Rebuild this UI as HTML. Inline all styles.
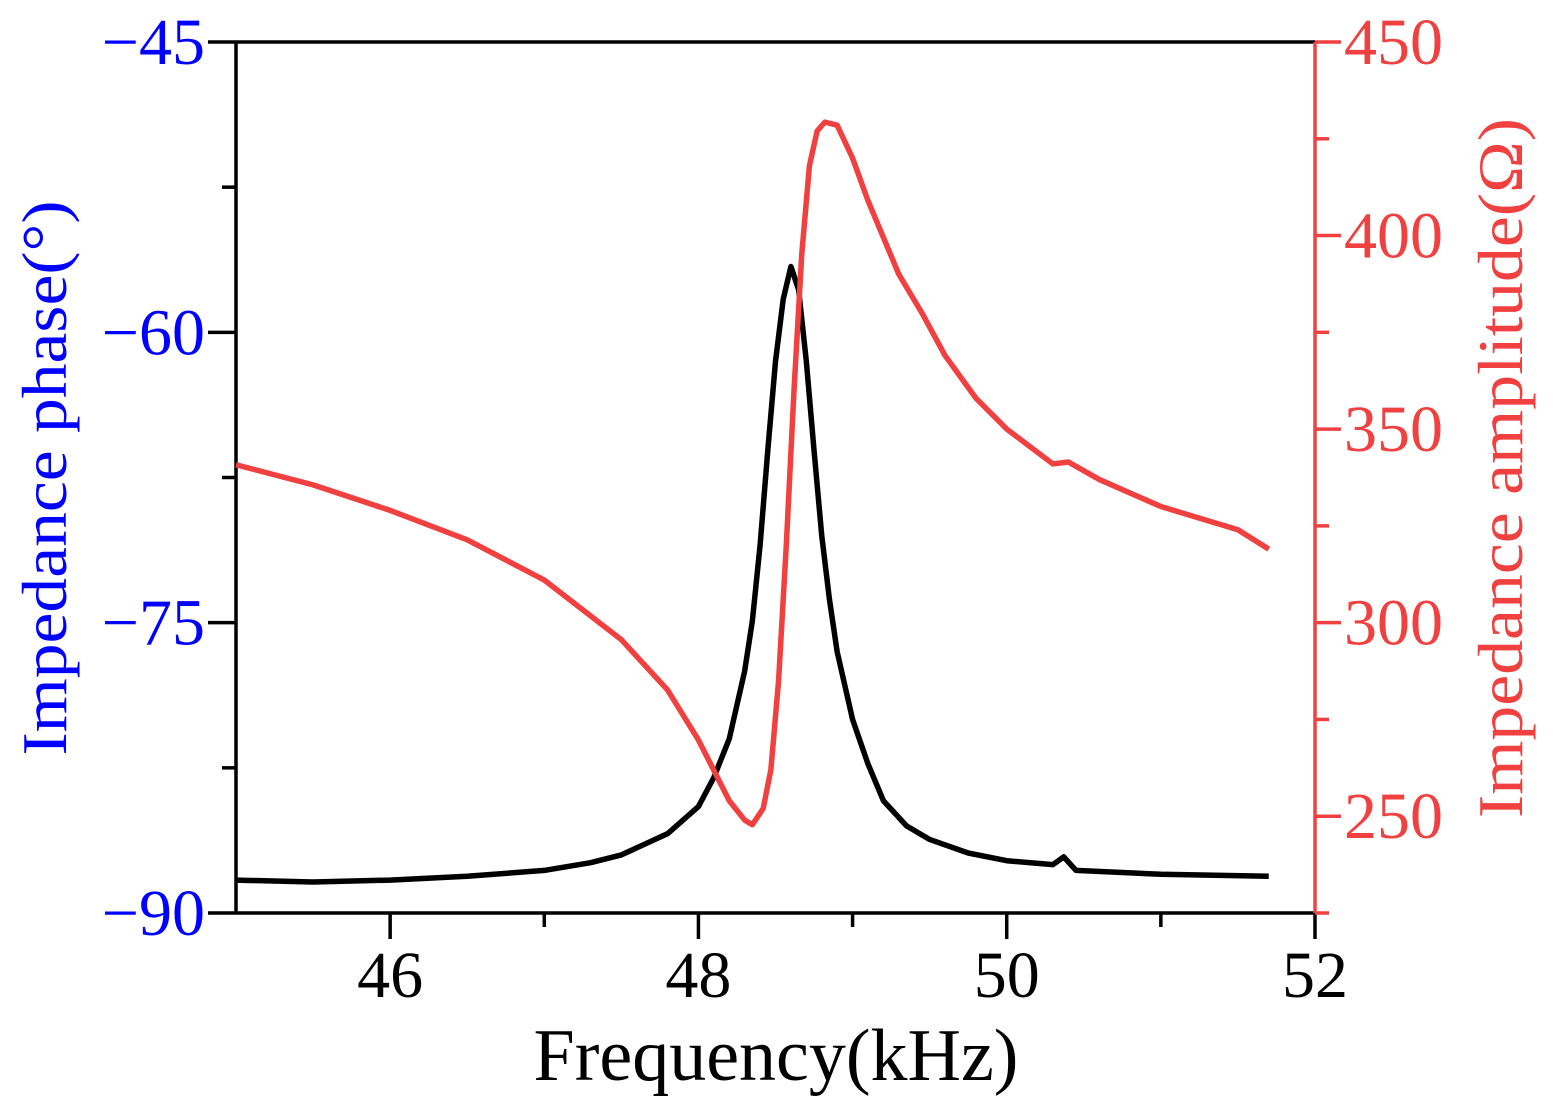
<!DOCTYPE html>
<html><head><meta charset="utf-8"><style>
body{margin:0;background:#fff;}
svg text{font-family:"Liberation Serif",serif;}
</style></head><body>
<svg id="chart" width="1554" height="1108" viewBox="0 0 1554 1108" xmlns="http://www.w3.org/2000/svg">
<g id="axes"></g><g id="series"></g>
</svg>
<script>
const freqPhase=[45,45.5,46,46.5,47,47.3,47.5,47.8,48,48.1,48.2,48.3,48.35,48.4,48.45,48.5,48.55,48.6,48.65,48.7,48.75,48.8,48.85,48.9,49,49.1,49.2,49.35,49.5,49.75,50,50.3,50.37,50.45,51,51.7];
const phaseVals=[-88.3,-88.4,-88.3,-88.1,-87.8,-87.4,-87.0,-85.9,-84.5,-83.0,-81,-77.5,-74.9,-71,-66.1,-61.5,-58.3,-56.6,-57.8,-61.5,-66.1,-70.5,-73.8,-76.5,-80,-82.3,-84.2,-85.5,-86.2,-86.9,-87.3,-87.5,-87.1,-87.8,-88,-88.1];
const freqAmp=[45,45.5,46,46.5,47,47.5,47.8,48,48.2,48.3,48.35,48.42,48.47,48.52,48.57,48.62,48.67,48.72,48.77,48.82,48.9,49.0,49.1,49.3,49.45,49.6,49.8,50,50.3,50.4,50.6,51,51.5,51.7];
const ampVals=[340.8,335.6,329,321.4,311,295.6,282.6,269.7,254,249,247.8,252,262,285,320,360,395,418,427,429.3,428.5,420,409,390,380,369,358,350,341,341.5,337,330,324,319];
const xTicks=[46,48,50,52];
const phaseTicks=[-45,-60,-75,-90];
const ampTicks=[250,300,350,400,450];
const L=236,R=1315,T=42,B=913;
const xS=f=>L+(f-45)/7*(R-L);
const yP=p=>T+(-45-p)/45*(B-T);
const yA=a=>T+(450-a)/225*(B-T);
const NS="http://www.w3.org/2000/svg";
const ax=document.getElementById('axes'),se=document.getElementById('series');
function el(t,at,p){const e=document.createElementNS(NS,t);for(const k in at)e.setAttribute(k,at[k]);p.appendChild(e);return e;}
const lw=3.5;
let e;
e=el('line',{x1:L,y1:T,x2:L,y2:B,stroke:'#000','stroke-width':lw},ax);


e=el('line',{x1:L,y1:B,x2:R,y2:B,stroke:'#000','stroke-width':lw},ax);


e=el('line',{x1:L,y1:T,x2:R,y2:T,stroke:'#000','stroke-width':lw},ax);


e=el('line',{x1:R,y1:T,x2:R,y2:B,stroke:'#f04040','stroke-width':lw},ax);


for(let f=46;f<=52;f++){const major=xTicks.includes(f);
 e=el('line',{x1:xS(f),y1:B,x2:xS(f),y2:B+(major?26:14),stroke:'#000','stroke-width':lw},ax);
 
 }
xTicks.forEach(f=>{e=el('text',{x:xS(f),y:997,'text-anchor':'middle','font-size':66,fill:'#000'},ax);e.textContent=f;
 
 });
for(let p=-45;p>=-90;p-=7.5){const major=phaseTicks.includes(p);
 e=el('line',{x1:L,y1:yP(p),x2:L-(major?28:14),y2:yP(p),stroke:'#000','stroke-width':lw},ax);
 
 }
phaseTicks.forEach(p=>{e=el('text',{x:205,y:yP(p)+22,'text-anchor':'end','font-size':66,fill:'#0000ff'},ax);e.textContent='\u2212'+Math.abs(p);
 
 });
for(let a=450;a>=225;a-=25){const major=ampTicks.includes(a);
 e=el('line',{x1:R,y1:yA(a),x2:R+(major?26:14),y2:yA(a),stroke:'#f04040','stroke-width':lw},ax);
 
 }
ampTicks.forEach(a=>{e=el('text',{x:1344,y:yA(a)+22,'font-size':66,fill:'#f04040'},ax);e.textContent=a;
 
 });
e=el('text',{x:776,y:1080,'text-anchor':'middle','font-size':74,fill:'#000'},ax);e.textContent='Frequency(kHz)';


e=el('text',{x:0,y:0,'text-anchor':'middle','font-size':64,fill:'#0000ff',transform:'translate(66,478) rotate(-90)','textLength':555,'lengthAdjust':'spacingAndGlyphs'},ax);e.textContent='Impedance phase(°)';


e=el('text',{x:0,y:0,'text-anchor':'middle','font-size':64,fill:'#f04040',transform:'translate(1522,468) rotate(-90)','textLength':700,'lengthAdjust':'spacingAndGlyphs'},ax);e.textContent='Impedance amplitude(Ω)';


e=el('polyline',{points:freqPhase.map((f,i)=>xS(f)+','+yP(phaseVals[i])).join(' '),fill:'none',stroke:'#000','stroke-width':5.5,'stroke-linejoin':'round'},se);


e=el('polyline',{points:freqAmp.map((f,i)=>xS(f)+','+yA(ampVals[i])).join(' '),fill:'none',stroke:'#f04040','stroke-width':5.5,'stroke-linejoin':'round'},se);


</script>
</body></html>
